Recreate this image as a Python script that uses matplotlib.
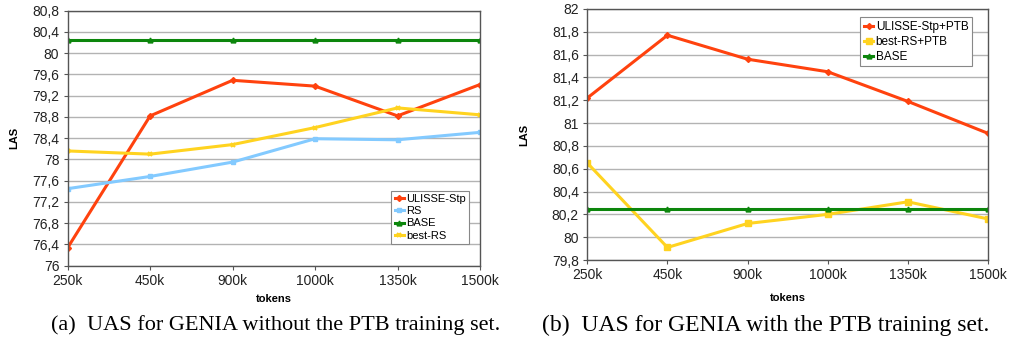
import matplotlib
matplotlib.use("Agg")
import matplotlib.pyplot as plt
from matplotlib.ticker import FuncFormatter

tokens = ["250k", "450k", "900k", "1000k", "1350k", "1500k"]

# (a) without PTB
ulisse_a = [76.34, 78.82, 79.49, 79.38, 78.82, 79.41]
rs_a = [77.45, 77.68, 77.95, 78.39, 78.37, 78.51]
base_a = [80.25, 80.25, 80.25, 80.25, 80.25, 80.25]
best_rs_a = [78.16, 78.10, 78.28, 78.60, 78.97, 78.84]

# (b) with PTB
ulisse_b = [81.22, 81.77, 81.56, 81.45, 81.19, 80.91]
best_rs_b = [80.65, 79.91, 80.12, 80.20, 80.31, 80.16]
base_b = [80.25, 80.25, 80.25, 80.25, 80.25, 80.25]

RED, BLUE, GREEN, YELLOW = "#ff420e", "#83caff", "#0c860c", "#ffd320"

plt.rcParams["font.family"] = ["Liberation Sans", "DejaVu Sans"]

fig = plt.figure(figsize=(10.14, 3.47), dpi=100)
ax1 = fig.add_axes([67.7 / 1014, 1 - 265.7 / 347, (480 - 67.7) / 1014, 255 / 347])
ax2 = fig.add_axes([587.3 / 1014, 1 - 260 / 347, (988 - 587.3) / 1014, 251 / 347])


def comma(v, _):
    s = f"{v:.1f}".rstrip("0").rstrip(".")
    return s.replace(".", ",")


def style(ax, ymin, ymax, step, xpad, ypad):
    x = list(range(len(tokens)))
    ax.set_xlim(0, len(tokens) - 1)
    ax.set_ylim(ymin, ymax)
    ax.set_xticks(x)
    ax.set_xticklabels(tokens)
    n = int(round((ymax - ymin) / step))
    ax.set_yticks([ymin + i * step for i in range(n + 1)])
    ax.yaxis.set_major_formatter(FuncFormatter(comma))
    ax.grid(axis="y", color="#b3b3b3", lw=1)
    ax.set_axisbelow(True)
    for s in ax.spines.values():
        s.set_color("#555555")
        s.set_linewidth(1)
    ax.tick_params(labelsize=10, length=3, color="#555555", labelcolor="#222222", pad=3)
    ax.set_xlabel("tokens", fontsize=8, fontweight="bold", labelpad=xpad)
    ax.set_ylabel("LAS", fontsize=8, fontweight="bold", labelpad=ypad)
    return x


x = style(ax1, 76, 80.8, 0.4, 4, 9)
ax1.plot(x, ulisse_a, color=RED, lw=2.2, marker="D", ms=3, label="ULISSE-Stp")
ax1.plot(x, rs_a, color=BLUE, lw=2.2, marker="s", ms=3.5, label="RS")
ax1.plot(x, base_a, color=GREEN, lw=2.2, marker="^", ms=3.5, label="BASE")
ax1.plot(x, best_rs_a, color=YELLOW, lw=2.2, marker="x", ms=3, mew=1.5, label="best-RS")
leg = ax1.legend(loc="lower right", bbox_to_anchor=(0.973, 0.085), fontsize=8,
                 fancybox=False, framealpha=1, edgecolor="#888888", handlelength=0.8,
                 handletextpad=0.2, borderpad=0.3, labelspacing=0.2, borderaxespad=0)
leg.get_frame().set_linewidth(0.8)

x = style(ax2, 79.8, 82, 0.2, 8, 16)
ax2.plot(x, ulisse_b, color=RED, lw=2.2, marker="D", ms=3, label="ULISSE-Stp+PTB")
ax2.plot(x, best_rs_b, color=YELLOW, lw=2.2, marker="s", ms=4, label="best-RS+PTB")
ax2.plot(x, base_b, color=GREEN, lw=2.2, marker="^", ms=3.5, label="BASE")
leg = ax2.legend(loc="upper right", bbox_to_anchor=(0.96, 0.967), fontsize=8.5,
                 fancybox=False, framealpha=1, edgecolor="#888888", handlelength=0.8,
                 handletextpad=0.2, borderpad=0.3, labelspacing=0.25, borderaxespad=0)
leg.get_frame().set_linewidth(0.8)

fig.text(276 / 1014, 1 - 325 / 347, "(a)  UAS for GENIA without the PTB training set.",
         ha="center", va="center", fontsize=16, family="Liberation Serif")
fig.text(766 / 1014, 1 - 325 / 347, "(b)  UAS for GENIA with the PTB training set.",
         ha="center", va="center", fontsize=17, family="Liberation Serif")

fig.savefig("out.png", dpi=100, facecolor="white")
